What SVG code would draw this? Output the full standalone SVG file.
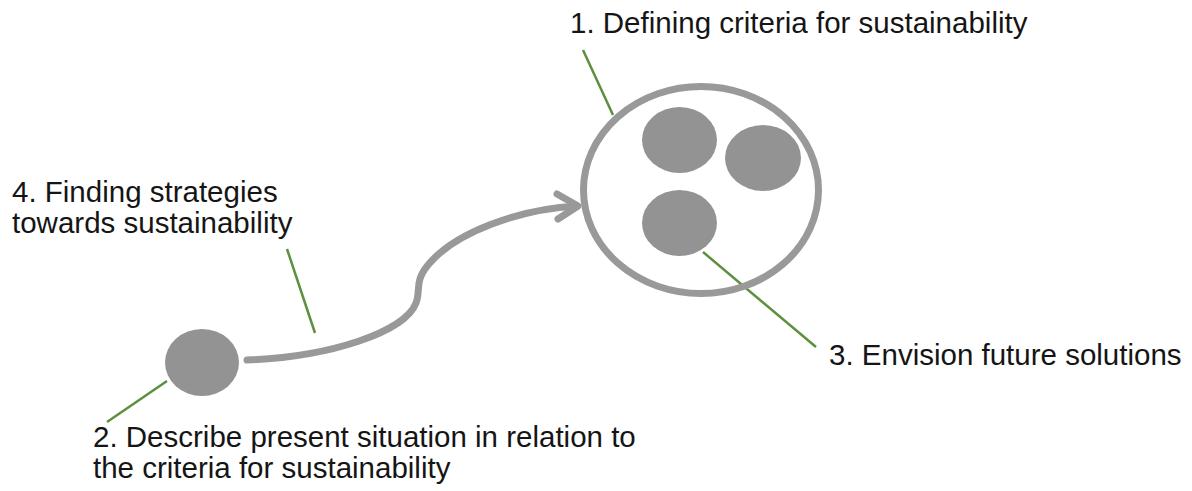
<svg xmlns="http://www.w3.org/2000/svg" width="1192" height="491" viewBox="0 0 1192 491">
<style>
text{font-family:"Liberation Sans",Arial,sans-serif;font-size:29.5px;fill:#151515}
.blob{fill:#939393}
.ring{fill:none;stroke:#999;stroke-width:7}
.flow{fill:none;stroke:#999;stroke-width:7;stroke-linecap:round;stroke-linejoin:round}
.lead{stroke:#5e8f3e;stroke-width:2.5;fill:none}
</style>
<rect width="1192" height="491" fill="#fff"/>
<g id="connectors">
<path class="flow" d="M247,360 C330,357 405,332 416,303 C421,290 414,282 428,265 C455,232 520,209 577,206"/>
<polyline class="flow" points="557,194 578,206 558,219"/>
<line class="lead" x1="583" y1="50" x2="613" y2="115"/>
<line class="lead" x1="703" y1="252" x2="816" y2="347"/>
<line class="lead" x1="287" y1="249" x2="315" y2="333"/>
<line class="lead" x1="107" y1="422" x2="167" y2="381"/>
</g>
<g id="node-criteria">
<ellipse class="ring" cx="701" cy="190" rx="117.5" ry="103.5"/>
<text x="570" y="33">1. Defining criteria for sustainability</text>
</g>
<g id="node-blob-a"><ellipse class="blob" cx="679.5" cy="140" rx="37.5" ry="33"/></g>
<g id="node-blob-b"><ellipse class="blob" cx="763" cy="158" rx="38" ry="33"/></g>
<g id="node-envision">
<ellipse class="blob" cx="679.5" cy="223" rx="37.5" ry="33"/>
<text x="829" y="365">3. Envision future solutions</text>
</g>
<g id="node-present">
<ellipse class="blob" cx="202" cy="362.5" rx="37" ry="33.5"/>
<text x="93" y="447">2. Describe present situation in relation to</text>
<text x="93" y="478">the criteria for sustainability</text>
</g>
<g id="label-strategies">
<text x="12" y="202">4. Finding strategies</text>
<text x="12" y="233">towards sustainability</text>
</g>
</svg>
